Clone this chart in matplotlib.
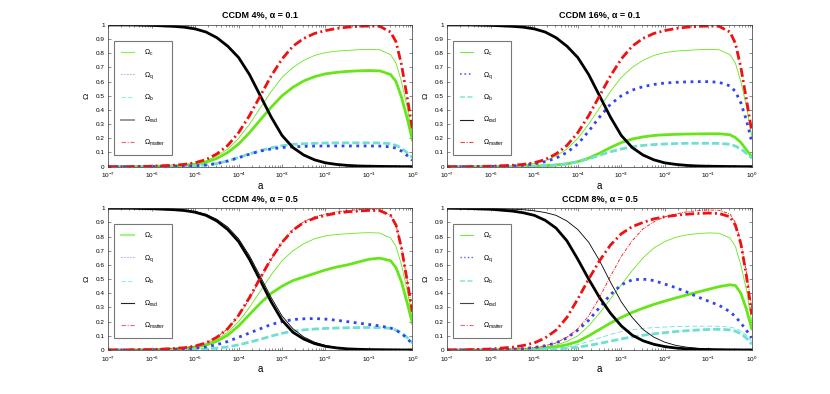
import math
import matplotlib
matplotlib.use('Agg')
import matplotlib.pyplot as plt
from matplotlib.lines import Line2D
from matplotlib.ticker import LogLocator, MultipleLocator, FuncFormatter, NullFormatter, FixedLocator

plt.rcParams['font.family'] = ['Liberation Sans', 'DejaVu Sans']
plt.rcParams['mathtext.fontset'] = 'custom'
plt.rcParams['mathtext.rm'] = 'Liberation Sans'
plt.rcParams['mathtext.it'] = 'Liberation Sans:italic'
plt.rcParams['mathtext.bf'] = 'Liberation Sans:bold'

# log10(a) sample points
loga = [-7, -6.5, -6, -5.5, -5.25, -5, -4.75, -4.5, -4.25, -4, -3.75, -3.5, -3.25,
        -3, -2.75, -2.5, -2.25, -2, -1.75, -1.5, -1.25, -1, -0.75, -0.5, -0.375,
        -0.25, -0.125, 0]

# top row (alpha = 0.1)
rad_top = [1.0, 1.0, 0.997, 0.99, 0.984, 0.972, 0.95, 0.91, 0.85, 0.77, 0.65, 0.50, 0.35,
           0.22, 0.135, 0.082, 0.048, 0.027, 0.016, 0.009, 0.005, 0.003, 0.002, 0.001, 0.001,
           0.0, 0.0, 0.0]
cdm_ref = [0.0, 0.0, 0.002, 0.008, 0.013, 0.023, 0.041, 0.075, 0.125, 0.2, 0.3, 0.415, 0.53,
           0.63, 0.7, 0.75, 0.785, 0.805, 0.815, 0.82, 0.825, 0.828, 0.825, 0.79, 0.73,
           0.6, 0.43, 0.22]

matter1 = [0.0, 0.0, 0.003, 0.01, 0.016, 0.028, 0.05, 0.09, 0.15, 0.24, 0.36, 0.50, 0.64,
           0.76, 0.85, 0.905, 0.94, 0.96, 0.975, 0.984, 0.99, 0.993, 0.99, 0.95, 0.88,
           0.72, 0.5, 0.27]
cdm1 = [0.0, 0.0, 0.002, 0.006, 0.01, 0.018, 0.032, 0.058, 0.1, 0.16, 0.24, 0.33, 0.42,
        0.5, 0.56, 0.605, 0.635, 0.655, 0.665, 0.672, 0.676, 0.678, 0.676, 0.65, 0.6,
        0.49, 0.35, 0.19]
q1 = [0.0, 0.0, 0.0, 0.002, 0.003, 0.006, 0.012, 0.022, 0.04, 0.063, 0.088, 0.11, 0.125,
      0.135, 0.14, 0.143, 0.145, 0.146, 0.146, 0.146, 0.146, 0.146, 0.145, 0.14, 0.13,
      0.11, 0.08, 0.045]
b1 = [0.0, 0.0, 0.0, 0.002, 0.003, 0.006, 0.012, 0.022, 0.04, 0.065, 0.09, 0.113, 0.133,
      0.148, 0.157, 0.162, 0.165, 0.167, 0.168, 0.168, 0.168, 0.168, 0.167, 0.162, 0.15,
      0.13, 0.1, 0.065]

matter2 = [0.0, 0.0, 0.003, 0.01, 0.016, 0.028, 0.05, 0.09, 0.15, 0.24, 0.36, 0.50, 0.64,
           0.76, 0.85, 0.905, 0.94, 0.96, 0.975, 0.984, 0.99, 0.993, 0.99, 0.95, 0.87,
           0.7, 0.48, 0.25]
cdm2 = [0.0, 0.0, 0.0, 0.001, 0.002, 0.004, 0.007, 0.012, 0.02, 0.035, 0.06, 0.095, 0.135,
        0.17, 0.195, 0.21, 0.22, 0.225, 0.228, 0.23, 0.231, 0.232, 0.232, 0.225, 0.205,
        0.17, 0.12, 0.07]
q2 = [0.0, 0.0, 0.002, 0.006, 0.01, 0.02, 0.035, 0.06, 0.1, 0.16, 0.25, 0.35, 0.44,
      0.5, 0.54, 0.565, 0.58, 0.59, 0.595, 0.598, 0.6, 0.6, 0.595, 0.57, 0.53,
      0.45, 0.33, 0.18]
b2 = [0.0, 0.0, 0.0, 0.001, 0.002, 0.003, 0.006, 0.011, 0.02, 0.035, 0.055, 0.08, 0.105,
      0.125, 0.14, 0.15, 0.156, 0.16, 0.163, 0.165, 0.165, 0.165, 0.164, 0.158, 0.145,
      0.125, 0.095, 0.06]

# bottom row (alpha = 0.5)
rad3 = [1.0, 1.0, 0.997, 0.99, 0.984, 0.972, 0.95, 0.91, 0.85, 0.765, 0.64, 0.49, 0.34,
        0.21, 0.125, 0.077, 0.045, 0.026, 0.015, 0.008, 0.005, 0.003, 0.002, 0.001, 0.001,
        0.0, 0.0, 0.0]
rad3_ref = [1.0, 1.0, 0.998, 0.992, 0.987, 0.977, 0.958, 0.922, 0.867, 0.785, 0.665, 0.52, 0.37,
            0.24, 0.15, 0.092, 0.055, 0.032, 0.018, 0.01, 0.006, 0.003, 0.002, 0.001, 0.001,
            0.0, 0.0, 0.0]
matter3 = [0.0, 0.0, 0.003, 0.01, 0.016, 0.028, 0.05, 0.09, 0.15, 0.245, 0.37, 0.51, 0.645,
           0.76, 0.845, 0.9, 0.93, 0.95, 0.965, 0.975, 0.98, 0.985, 0.983, 0.95, 0.88,
           0.72, 0.5, 0.27]
cdm3 = [0.0, 0.0, 0.002, 0.007, 0.011, 0.02, 0.035, 0.062, 0.105, 0.17, 0.25, 0.33, 0.4,
        0.45, 0.49, 0.515, 0.54, 0.565, 0.585, 0.6, 0.62, 0.64, 0.648, 0.63, 0.58,
        0.48, 0.34, 0.19]
q3 = [0.0, 0.0, 0.001, 0.004, 0.007, 0.012, 0.022, 0.038, 0.06, 0.09, 0.12, 0.15, 0.18,
      0.2, 0.215, 0.22, 0.222, 0.218, 0.21, 0.2, 0.19, 0.18, 0.17, 0.155, 0.14,
      0.115, 0.085, 0.04]
b3 = [0.0, 0.0, 0.0, 0.001, 0.002, 0.004, 0.007, 0.013, 0.022, 0.036, 0.055, 0.075, 0.098,
      0.118, 0.132, 0.142, 0.148, 0.152, 0.155, 0.157, 0.158, 0.159, 0.158, 0.153, 0.14,
      0.12, 0.09, 0.05]

rad4 = [1.0, 0.998, 0.993, 0.98, 0.968, 0.95, 0.915, 0.86, 0.77, 0.64, 0.5, 0.37, 0.26,
        0.17, 0.105, 0.065, 0.04, 0.024, 0.014, 0.008, 0.005, 0.003, 0.002, 0.001, 0.001,
        0.0, 0.0, 0.0]
rad4_ref = [1.0, 1.0, 0.998, 0.993, 0.99, 0.982, 0.97, 0.95, 0.91, 0.85, 0.76, 0.63, 0.48,
            0.34, 0.23, 0.145, 0.09, 0.055, 0.033, 0.02, 0.012, 0.007, 0.004, 0.002, 0.001,
            0.0, 0.0, 0.0]
matter4 = [0.0, 0.002, 0.007, 0.02, 0.032, 0.05, 0.085, 0.14, 0.23, 0.36, 0.5, 0.63, 0.74,
           0.82, 0.87, 0.9, 0.925, 0.94, 0.95, 0.958, 0.963, 0.966, 0.963, 0.94, 0.88,
           0.75, 0.53, 0.25]
matter4_ref = [0.0, 0.0, 0.002, 0.007, 0.01, 0.018, 0.03, 0.05, 0.09, 0.15, 0.24, 0.37, 0.52,
               0.66, 0.77, 0.855, 0.905, 0.94, 0.96, 0.975, 0.983, 0.988, 0.986, 0.96, 0.9,
               0.76, 0.55, 0.3]
cdm4_ref = [0.0, 0.0, 0.001, 0.004, 0.007, 0.012, 0.02, 0.035, 0.06, 0.1, 0.17, 0.26, 0.36,
            0.46, 0.56, 0.65, 0.72, 0.765, 0.795, 0.812, 0.821, 0.826, 0.824, 0.79, 0.73,
            0.6, 0.43, 0.2]
cdm4 = [0.0, 0.0, 0.001, 0.003, 0.005, 0.008, 0.014, 0.022, 0.037, 0.06, 0.1, 0.145, 0.19,
        0.23, 0.265, 0.295, 0.322, 0.345, 0.367, 0.388, 0.408, 0.428, 0.447, 0.46, 0.455,
        0.4, 0.29, 0.15]
q4 = [0.0, 0.0, 0.002, 0.006, 0.01, 0.018, 0.03, 0.05, 0.085, 0.14, 0.21, 0.3, 0.39,
      0.46, 0.495, 0.5, 0.49, 0.465, 0.44, 0.41, 0.375, 0.345, 0.315, 0.27, 0.235,
      0.19, 0.14, 0.085]
b4_ref = [0.0, 0.0, 0.0, 0.001, 0.002, 0.004, 0.007, 0.012, 0.022, 0.038, 0.06, 0.085, 0.11,
          0.13, 0.143, 0.152, 0.158, 0.162, 0.165, 0.167, 0.168, 0.168, 0.167, 0.162, 0.152,
          0.135, 0.105, 0.06]
b4 = [0.0, 0.0, 0.0, 0.0, 0.001, 0.002, 0.004, 0.007, 0.012, 0.02, 0.032, 0.046, 0.062,
      0.078, 0.092, 0.104, 0.114, 0.122, 0.13, 0.136, 0.141, 0.145, 0.146, 0.142, 0.133,
      0.115, 0.085, 0.04]

titles = ['CCDM 4%, α = 0.1', 'CCDM 16%, α = 0.1', 'CCDM 4%, α = 0.5', 'CCDM 8%, α = 0.5']
labels = [r'$\Omega_{\rm c}$', r'$\Omega_{\rm q}$', r'$\Omega_{\rm b}$',
          r'$\Omega_{\rm rad}$', r'$\Omega_{\rm matter}$']
xticks = [1e-7, 1e-6, 1e-5, 1e-4, 1e-3, 1e-2, 1e-1, 1e0]

green = '#66e619'
blue = '#3344ee'
cyan = '#6ee0d2'
red = '#ee1111'
dashes = (2.6, 1.1)
dashdot = (3.2, 1.2, 0.7, 1.2)

a = [10.0 ** v for v in loga]

fig = plt.figure(figsize=(8.3, 3.94), dpi=100)
boxes = [[0.1305, 0.577, 0.3663, 0.3597], [0.539, 0.577, 0.3667, 0.3597],
         [0.1305, 0.1117, 0.3663, 0.3597], [0.539, 0.1117, 0.3667, 0.3597]]

thin = 0.6
thick = 2.0


def fmt_y(v, _):
    if abs(v) < 1e-9:
        return '0'
    if abs(v - 1) < 1e-9:
        return '1'
    return f'{v:.1f}'


def setup(ax, title):
    ax.set_xscale('log')
    ax.set_xlim(1e-7, 1)
    ax.set_ylim(0, 1)
    ax.yaxis.set_major_locator(MultipleLocator(0.1))
    ax.yaxis.set_major_formatter(FuncFormatter(fmt_y))
    ax.xaxis.set_major_locator(FixedLocator(xticks))
    ax.set_xticklabels([f'$10^{{{int(round(math.log10(t)))}}}$' for t in xticks])
    ax.xaxis.set_minor_locator(LogLocator(base=10, subs=range(2, 10), numticks=20))
    ax.xaxis.set_minor_formatter(NullFormatter())
    ax.tick_params(which='both', direction='in', top=True, right=True,
                   labelsize=4.6, width=0.4, color='#333333')
    ax.tick_params(axis='x', pad=3.2)
    ax.tick_params(axis='y', pad=2.5)
    ax.tick_params(which='major', length=2.2)
    ax.tick_params(which='minor', length=1.2)
    for s in ax.spines.values():
        s.set_linewidth(0.5)
        s.set_color('#333333')
    ax.set_title(title, fontsize=6.5, fontweight='bold', pad=5)
    ax.set_xlabel('a', fontsize=7, labelpad=0.5)
    ax.set_ylabel('Ω', fontsize=6, labelpad=4)


def legend(ax, handles):
    lg = ax.legend(handles, labels, loc='upper left', bbox_to_anchor=(0.018, 0.89),
                   borderaxespad=0, fontsize=5, handlelength=1.9, handletextpad=1.4,
                   labelspacing=1.75, borderpad=1.0, frameon=True, fancybox=False)
    lg.get_frame().set_edgecolor('#555555')
    lg.get_frame().set_linewidth(0.8)


axes = [fig.add_axes(b) for b in boxes]

# panel 1
ax = axes[0]
setup(ax, titles[0])
ax.plot(a, cdm_ref, color=green, lw=thin)
ax.plot(a, cdm1, color=green, lw=thick)
ax.plot(a, b1, color=cyan, lw=thick, dashes=dashes)
ax.plot(a, q1, color=blue, lw=thick, ls=':')
ax.plot(a, rad_top, color='black', lw=thick)
ax.plot(a, matter1, color=red, lw=thick, dashes=dashdot)
legend(ax, [Line2D([], [], color='#88ee55', lw=0.8),
            Line2D([], [], color='#8899ee', lw=0.8, ls=':'),
            Line2D([], [], color='#99eee2', lw=0.8, dashes=(4, 2)),
            Line2D([], [], color='#999999', lw=1.4),
            Line2D([], [], color='#ee6666', lw=0.8, dashes=(4, 1.5, 1, 1.5))])

# panel 2
ax = axes[1]
setup(ax, titles[1])
ax.plot(a, cdm_ref, color=green, lw=thin)
ax.plot(a, cdm2, color=green, lw=thick)
ax.plot(a, b2, color=cyan, lw=thick, dashes=dashes)
ax.plot(a, q2, color=blue, lw=thick, ls=':')
ax.plot(a, rad_top, color='black', lw=thick)
ax.plot(a, matter2, color=red, lw=thick, dashes=dashdot)
legend(ax, [Line2D([], [], color='#77e840', lw=0.8),
            Line2D([], [], color='#5566ee', lw=1.2, ls=':'),
            Line2D([], [], color='#88eadd', lw=1.2, dashes=(3, 1.5)),
            Line2D([], [], color='#222222', lw=0.8),
            Line2D([], [], color='#ee4444', lw=0.8, dashes=(4, 1.5, 1, 1.5))])

# panel 3
ax = axes[2]
setup(ax, titles[2])
ax.plot(a, cdm_ref, color=green, lw=thin)
ax.plot(a, cdm3, color=green, lw=thick)
ax.plot(a, b3, color=cyan, lw=thick, dashes=dashes)
ax.plot(a, q3, color=blue, lw=thick, ls=':')
ax.plot(a, rad3_ref, color='black', lw=thin)
ax.plot(a, rad3, color='black', lw=thick)
ax.plot(a, matter1, color=red, lw=thin, dashes=(4, 1.5, 1, 1.5))
ax.plot(a, matter3, color=red, lw=thick, dashes=dashdot)
legend(ax, [Line2D([], [], color='#aaf088', lw=1.6),
            Line2D([], [], color='#8899ee', lw=0.8, ls=':'),
            Line2D([], [], color='#99eee2', lw=0.8, dashes=(4, 2)),
            Line2D([], [], color='#222222', lw=0.8),
            Line2D([], [], color='#ee6666', lw=0.8, dashes=(4, 1.5, 1, 1.5))])

# panel 4
ax = axes[3]
setup(ax, titles[3])
ax.plot(a, cdm4_ref, color=green, lw=thin)
ax.plot(a, cdm4, color=green, lw=thick)
ax.plot(a, b4_ref, color=cyan, lw=thin, dashes=(6, 3))
ax.plot(a, b4, color=cyan, lw=thick, dashes=dashes)
ax.plot(a, q4, color=blue, lw=thick, ls=':')
ax.plot(a, rad4_ref, color='black', lw=thin)
ax.plot(a, rad4, color='black', lw=thick)
ax.plot(a, matter4_ref, color=red, lw=thin, dashes=(4, 1.5, 1, 1.5))
ax.plot(a, matter4, color=red, lw=thick, dashes=dashdot)
legend(ax, [Line2D([], [], color='#77e840', lw=0.8),
            Line2D([], [], color='#5566ee', lw=1.0, ls=':'),
            Line2D([], [], color='#88eadd', lw=1.2, dashes=(3, 1.5)),
            Line2D([], [], color='#444444', lw=0.8),
            Line2D([], [], color='#ee6666', lw=0.8, dashes=(4, 1.5, 1, 1.5))])

fig.savefig('out.png', dpi=100)
